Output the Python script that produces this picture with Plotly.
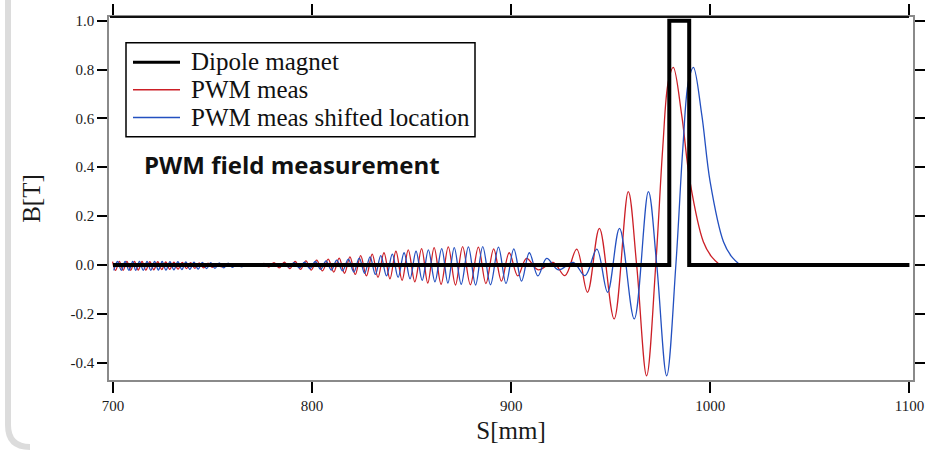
import plotly.graph_objects as go

# ---- data -------------------------------------------------------------
# Dipole magnet field profile (ideal hard-edge model)
dipole_s = [700.0, 979.4, 979.4, 989.4, 989.4, 1100.0]
dipole_b = [0.0, 0.0, 1.0, 1.0, 0.0, 0.0]

# PWM field measurement: turning points of the measured trace (S in mm, B in T)
pwm_s = [
    699.8, 701.3, 703.2, 705.1, 707.0, 708.9, 710.8, 712.7, 714.6, 716.5,
    718.5, 720.5, 722.5, 724.5, 726.5, 728.5, 730.6, 732.7, 734.8, 736.9,
    739.0, 741.1, 743.3, 745.5, 747.7, 749.9, 752.1, 754.4, 756.7, 759.0,
    761.3, 763.6, 766.0, 768.4, 770.8, 773.3, 775.8, 778.3, 780.9, 783.5,
    786.1, 788.8, 791.5, 794.2, 796.9, 799.6, 802.3, 805.2, 808.1, 810.9,
    813.6, 816.3, 819.0, 821.7, 824.4, 827.3, 830.2, 833.1, 836.1, 839.1,
    842.1, 845.2, 848.3, 851.6, 855.0, 858.1, 861.3, 864.8, 868.4, 872.0,
    875.6, 879.5, 883.5, 887.3, 891.2, 895.1, 899.0, 903.3, 907.7, 913.5,
    921.1, 927.0, 932.9, 938.3, 944.3, 951.7, 958.8, 963.0, 968.0, 972.6,
    976.1, 978.9, 981.4, 985.6, 989.8, 996.5, 1000.5, 1004.9,
]
pwm_b = [
    0.014, -0.022, 0.014, -0.022, 0.014, -0.022, 0.014, -0.021, 0.014, -0.021,
    0.013, -0.020, 0.013, -0.019, 0.012, -0.018, 0.011, -0.017, 0.010, -0.015,
    0.009, -0.014, 0.008, -0.012, 0.007, -0.010, 0.005, -0.008, 0.004, -0.006,
    0.003, -0.004, 0.002, -0.003, 0.003, -0.006, 0.006, -0.009, 0.009, -0.012,
    0.011, -0.015, 0.014, -0.018, 0.017, -0.021, 0.020, -0.024, 0.024, -0.029,
    0.028, -0.034, 0.033, -0.039, 0.038, -0.045, 0.044, -0.051, 0.050, -0.057,
    0.056, -0.063, 0.062, -0.069, 0.067, -0.074, 0.071, -0.079, 0.074, -0.082,
    0.075, -0.081, 0.073, -0.076, 0.066, -0.066, 0.050, -0.045, 0.027, -0.020,
    0.010, -0.044, 0.065, -0.112, 0.150, -0.221, 0.300, 0.000, -0.454, 0.000,
    0.478, 0.750, 0.809, 0.615, 0.341, 0.095, 0.035, 0.000,
]

# Same PWM measurement placed at the shifted location
pwm_shift_s = [
    700.4, 702.3, 704.2, 706.1, 708.0, 709.9, 711.4, 713.3, 715.2, 717.1,
    719.0, 720.9, 722.8, 724.7, 726.6, 728.6, 730.6, 732.6, 734.6, 736.6,
    738.6, 740.7, 742.8, 744.9, 747.0, 749.1, 751.2, 753.4, 755.6, 757.8,
    760.0, 762.2, 764.5, 766.8, 769.1, 771.4, 773.7, 776.1, 778.5, 780.9,
    783.4, 785.9, 788.4, 791.0, 793.6, 796.2, 798.9, 801.6, 804.3, 807.0,
    809.7, 812.4, 815.3, 818.2, 821.0, 823.7, 826.4, 829.1, 831.8, 834.5,
    837.4, 840.3, 843.2, 846.2, 849.2, 852.2, 855.3, 858.4, 861.7, 865.1,
    868.2, 871.4, 874.9, 878.5, 882.1, 885.7, 889.6, 893.6, 897.4, 901.3,
    905.2, 909.1, 913.4, 917.8, 923.6, 931.2, 937.1, 943.0, 948.4, 954.4,
    961.8, 968.9, 973.1, 978.1, 982.7, 986.2, 989.0, 991.5, 995.7, 999.9,
    1006.6, 1010.6, 1015.0,
]
pwm_shift_b = [
    -0.022, 0.014, -0.022, 0.014, -0.022, 0.014, -0.022, 0.014, -0.022, 0.014,
    -0.022, 0.014, -0.021, 0.014, -0.021, 0.013, -0.020, 0.013, -0.019, 0.012,
    -0.018, 0.011, -0.017, 0.010, -0.015, 0.009, -0.014, 0.008, -0.012, 0.007,
    -0.010, 0.005, -0.008, 0.004, -0.006, 0.003, -0.004, 0.002, -0.003, 0.003,
    -0.006, 0.006, -0.009, 0.009, -0.012, 0.011, -0.015, 0.014, -0.018, 0.017,
    -0.021, 0.020, -0.024, 0.024, -0.029, 0.028, -0.034, 0.033, -0.039, 0.038,
    -0.045, 0.044, -0.051, 0.050, -0.057, 0.056, -0.063, 0.062, -0.069, 0.067,
    -0.074, 0.071, -0.079, 0.074, -0.082, 0.075, -0.081, 0.073, -0.076, 0.066,
    -0.066, 0.050, -0.045, 0.027, -0.020, 0.010, -0.044, 0.065, -0.112, 0.150,
    -0.221, 0.300, 0.000, -0.454, 0.000, 0.478, 0.750, 0.809, 0.615, 0.341,
    0.095, 0.035, 0.000,
]

series_names = ["Dipole magnet", "PWM meas", "PWM meas shifted location"]
series_colors = ["#000000", "#cc1f26", "#2350c0"]
series_widths = [4, 1.3, 1.3]

x_ticks = [700, 800, 900, 1000, 1100]
y_ticks = [-0.4, -0.2, 0.0, 0.2, 0.4, 0.6, 0.8, 1.0]
y_tick_text = ["-0.4", "-0.2", "0.0", "0.2", "0.4", "0.6", "0.8", "1.0"]

# ---- geometry of the figure (pixels) ----------------------------------
W, H = 926, 450
PL, PR, PT, PB = 109, 913, 17, 380  # plot box edges


def px(x):
    return (x - PL) / (PR - PL)


def py(y):
    return (PB - y) / (PB - PT)


SERIF = "Liberation Serif, Times New Roman, serif"

fig = go.Figure()
fig.add_trace(go.Scatter(x=pwm_s, y=pwm_b, mode="lines", name=series_names[1],
                         line=dict(color=series_colors[1], width=series_widths[1],
                                   shape="spline", smoothing=1.0)))
fig.add_trace(go.Scatter(x=pwm_shift_s, y=pwm_shift_b, mode="lines", name=series_names[2],
                         line=dict(color=series_colors[2], width=series_widths[2],
                                   shape="spline", smoothing=1.0)))
fig.add_trace(go.Scatter(x=dipole_s, y=dipole_b, mode="lines", name=series_names[0],
                         line=dict(color=series_colors[0], width=series_widths[0])))

axis_common = dict(
    showgrid=False, zeroline=False, showline=True, linecolor="#8a8a8a", linewidth=1.5,
    ticks="outside", tickcolor="#000000", tickwidth=1.5, mirror="ticks",
    automargin=False,
    tickfont=dict(family=SERIF, size=15, color="#1a1a1a"),
)

fig.update_layout(
    width=W, height=H,
    margin=dict(l=PL, r=W - PR, t=PT, b=H - PB, autoexpand=False),
    paper_bgcolor="white", plot_bgcolor="white",
    showlegend=False,
    xaxis=dict(range=[698.0, 1101.8], tickvals=x_ticks, ticklen=11,
               title=dict(text="S[mm]", font=dict(family=SERIF, size=25, color="#1a1a1a"),
                          standoff=9),
               **axis_common),
    yaxis=dict(range=[-0.471, 1.015], tickvals=y_ticks, ticktext=y_tick_text, ticklen=10,
               title=dict(text="B[T]", font=dict(family=SERIF, size=25, color="#1a1a1a"),
                          standoff=23),
               **axis_common),
)

shapes = []
# heavier top frame line
shapes.append(dict(type="line", xref="paper", yref="paper", x0=px(110), x1=px(909),
                   y0=1, y1=1, line=dict(color="#111111", width=2)))
# legend box
shapes.append(dict(type="rect", xref="paper", yref="paper", x0=px(126), x1=px(475),
                   y0=py(136.7), y1=py(42.7), line=dict(color="#000000", width=1.5),
                   fillcolor="white", layer="above"))
legend_rows = [62.3, 89.8, 117.5]
for name, color, width, yrow in zip(series_names, series_colors, series_widths, legend_rows):
    shapes.append(dict(type="line", xref="paper", yref="paper", x0=px(133), x1=px(180),
                       y0=py(yrow), y1=py(yrow),
                       line=dict(color=color, width=3 if width > 2 else 1.4),
                       layer="above"))
    fig.add_annotation(xref="paper", yref="paper", x=px(189), y=py(yrow - 0.5),
                       xanchor="left", yanchor="middle", showarrow=False,
                       text=name, font=dict(family=SERIF, size=25, color="#111111"))
# light grey slide frame on the left edge
shapes.append(dict(type="path", xref="paper", yref="paper",
                   path=f"M {px(8)},{py(-5)} L {px(8)},{py(425)} "
                        f"Q {px(8)},{py(447)} {px(30)},{py(447)}",
                   line=dict(color="#dcdcdc", width=6)))

fig.update_layout(shapes=shapes)

fig.add_annotation(xref="paper", yref="paper", x=px(292), y=py(164),
                   xanchor="center", yanchor="middle", showarrow=False,
                   text="<b>PWM field measurement</b>",
                   font=dict(family="Open Sans, Noto Sans, sans-serif", size=24,
                             color="#111111"))

fig.write_html("out.html")
